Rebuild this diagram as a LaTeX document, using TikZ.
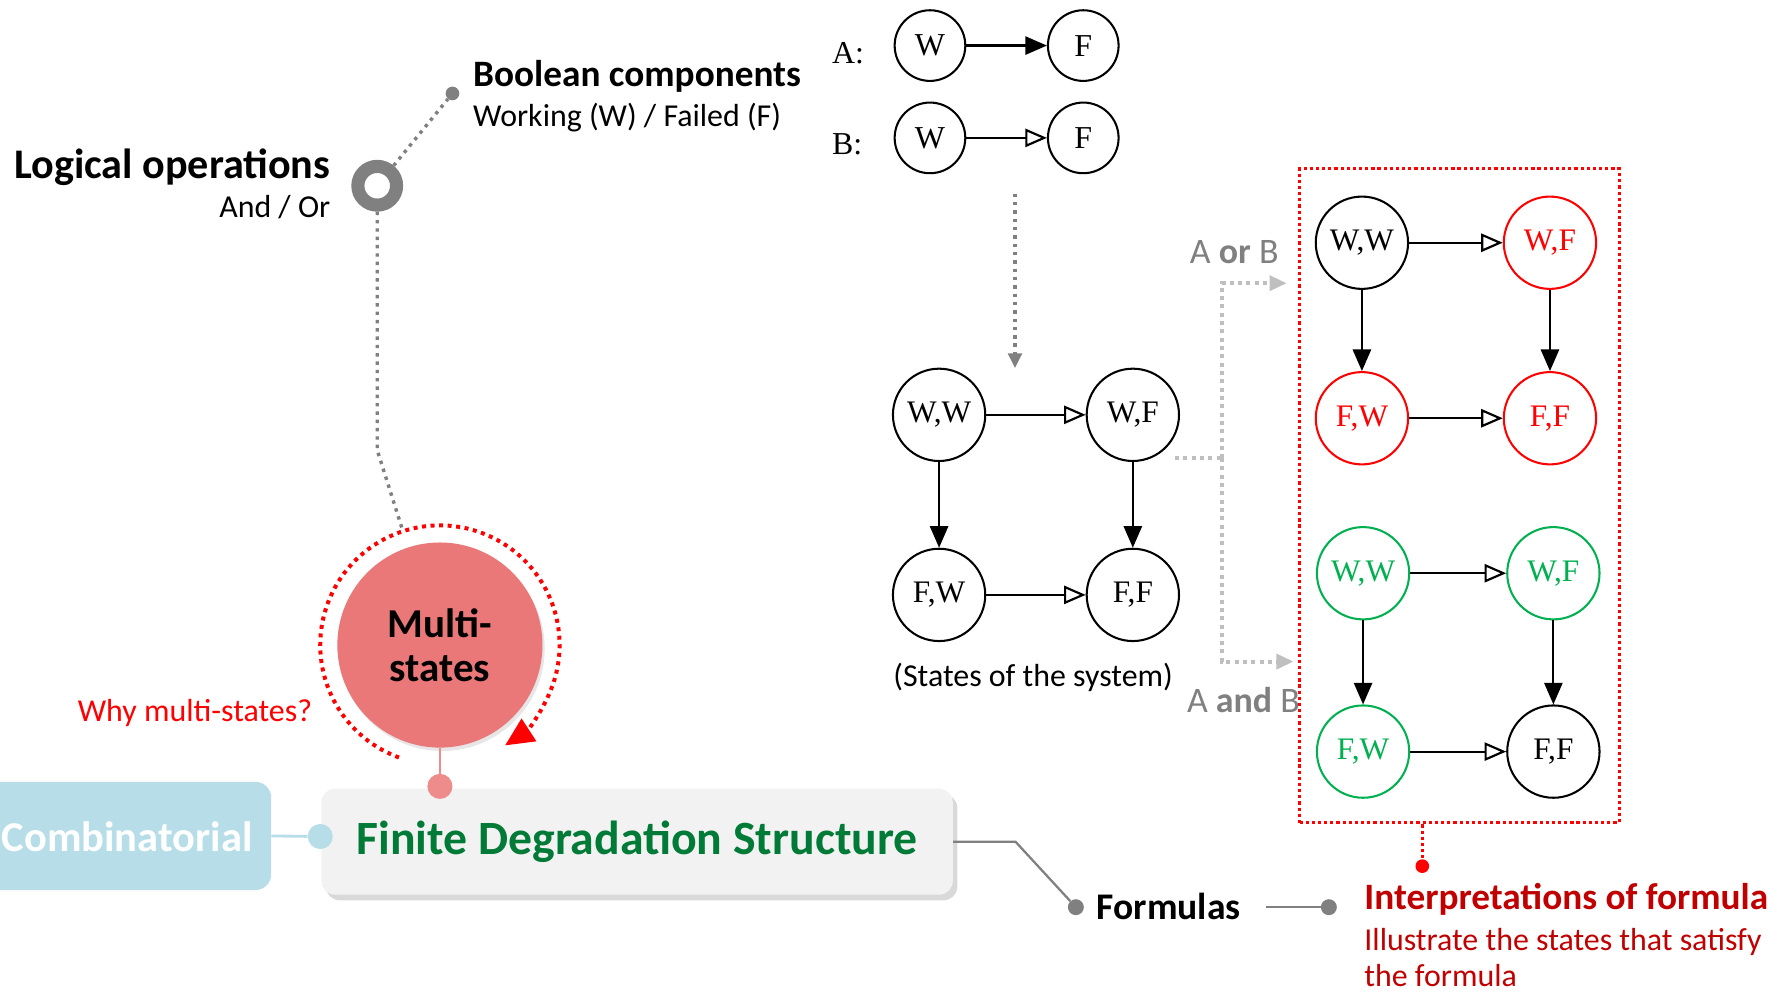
\documentclass[tikz,border=0pt]{standalone}
\usepackage{fontspec}
\setmainfont{Liberation Serif}
\newfontfamily\carl{Carlito}
\usetikzlibrary{arrows.meta,shadows,calc}

\definecolor{midgray}{RGB}{128,128,128}
\definecolor{paledots}{RGB}{191,191,191}
\definecolor{pinkfill}{RGB}{234,120,120}
\definecolor{pinkdot}{RGB}{238,140,140}
\definecolor{bluebox}{RGB}{183,222,232}
\definecolor{boxgray}{RGB}{242,242,242}
\definecolor{fdsgreen}{RGB}{0,122,55}
\definecolor{stgreen}{RGB}{0,176,80}
\definecolor{darkred}{RGB}{192,0,0}
\definecolor{pured}{RGB}{255,0,0}

\newcommand\fsz[2]{\fontsize{#1}{#2}\selectfont}

\begin{document}
\begin{tikzpicture}[x=1pt,y=1pt,
  st/.style={circle,draw,line width=1.8pt,minimum size=81pt,inner sep=0pt,font=\fsz{27.5}{30}},
  stA/.style={st,minimum size=62pt,font=\fsz{28}{30}},
  redst/.style={st,draw=pured,text=pured},
  greenst/.style={st,draw=stgreen,text=stgreen},
  edge/.style={line width=1.9pt},
  farr/.style={edge,-{Triangle[length=19pt,width=16pt]}},
  oarr/.style={edge,-{Triangle[open,length=19pt,width=16pt]}},
  graydots/.style={draw=midgray,line width=3pt,dash pattern=on 3pt off 4.3pt},
  paledash/.style={draw=paledots,line width=3.5pt,dash pattern=on 3.5pt off 3.8pt},
  reddots/.style={draw=pured,line width=3.5pt,dash pattern=on 3.5pt off 4pt},
  framedots/.style={draw=pured,line width=2.8pt,dash pattern=on 2.8pt off 2.6pt},
  blob/.style={circle,inner sep=0pt,minimum size=#1},
  lbl/.style={inner sep=0pt,font=\carl\fsz{28}{33}},
  head/.style={inner sep=0pt,font=\carl\bfseries\fsz{32.7}{38}},
]
\useasboundingbox (0,0) rectangle (1568,870);

% ---------- logical operations and Boolean components ----------
\node[head,font=\carl\bfseries\fsz{37}{42},anchor=base east] (logic) at (290,713) {Logical operations};
\node[lbl,anchor=base east] (andor) at (290,679) {And / Or};
\node[circle,draw=midgray,line width=11.5pt,minimum size=34pt,inner sep=0pt] (ring) at (331,707) {};
\node[blob=12pt,fill=midgray] (bdot) at (397,788) {};
\node[head,anchor=base west] (bool) at (415,794) {Boolean components};
\node[lbl,anchor=base west] (work) at (415,759) {Working (W) / Failed (F)};
\draw[graydots] (ring) -- (bdot);

% ---------- multi-states ----------
\node[circle,fill=pinkfill,minimum size=180pt,inner sep=0pt,align=center,
      font=\carl\bfseries\fsz{36}{39},
      drop shadow={shadow xshift=2pt,shadow yshift=-3pt,opacity=0.2}] (ms) at (386,304) {Multi-\\states};
\coordinate (bend) at (331,475);
\coordinate (mstop) at ($(ms.center)+(108:105)$);
\draw[graydots] (ring.south) -- (bend) -- (mstop);
\draw[reddots,-{Triangle[length=25pt,width=23pt]}] ($(ms.center)+(250:105)$)
  arc[start angle=250,end angle=-57,radius=105];
\node[lbl,text=pured,anchor=base east] (why) at (274,237) {Why multi-states?};

% ---------- main boxes ----------
\node[rounded corners=14pt,fill=bluebox,minimum width=268pt,minimum height=95pt] (comb) at (104,136.5) {};
\node[inner sep=0pt,text=white,font=\carl\bfseries\fsz{37.3}{42}] (combtxt) at (111.5,136) {Combinatorial};
\node[rounded corners=12pt,fill=boxgray,minimum width=554pt,minimum height=93pt,
      drop shadow={shadow xshift=4pt,shadow yshift=-5pt,opacity=0.3},
      font=\carl\bfseries\fsz{41.9}{46},text=fdsgreen] (fds) at (559,131.5) {Finite Degradation Structure};
\node[blob=22pt,fill=bluebox] (cdot) at (281,136) {};
\draw[bluebox,line width=2.5pt] (comb.east) -- (cdot);
\node[blob=22pt,fill=pinkdot] (pdot) at (386,180) {};
\draw[pinkdot,line width=2pt] (ms) -- (pdot);

% ---------- formulas and interpretations ----------
\coordinate (fk) at (891,131.5);
\node[blob=14pt,fill=midgray] (fdot) at (944,74) {};
\draw[midgray,line width=2pt] (fds.east) -- (fk) -- (fdot);
\node[head,font=\carl\bfseries\fsz{33}{38},anchor=base west] (form) at (962,63) {Formulas};
\coordinate (ls) at (1111,74);
\node[blob=14pt,fill=midgray] (idot) at (1166,74) {};
\draw[midgray,line width=2pt] (ls) -- (idot);
\node[head,text=darkred,anchor=base west] (interp) at (1197,72) {Interpretations of formula};
\node[lbl,text=darkred,anchor=base west] (ill1) at (1197,36) {Illustrate the states that satisfy};
\node[lbl,text=darkred,anchor=base west] (ill2) at (1197,4) {the formula};

% ---------- components A and B ----------
\node[inner sep=0pt,font=\fsz{28}{32},anchor=base west] (labA) at (730,814) {A:};
\node[inner sep=0pt,font=\fsz{28}{32},anchor=base west] (labB) at (730,734) {B:};
\node[stA] (aw) at (816,830) {W};
\node[stA] (af) at (950.5,830) {F};
\node[stA] (bw) at (816,749) {W};
\node[stA] (bf) at (950.5,749) {F};
\draw[farr] (aw) -- (af);
\draw[oarr] (bw) -- (bf);
\coordinate (gtop) at (890.6,700);
\coordinate (gbot) at (890.6,547);
\draw[graydots,-{Triangle[length=13pt,width=12pt]}] (gtop) -- (gbot);

% ---------- states of the system ----------
\node[st] (ww) at (824,506) {W,W};
\node[st] (wf) at (994,506) {W,F};
\node[st] (fw) at (824,348) {F,W};
\node[st] (ff) at (994,348) {F,F};
\draw[oarr] (ww) -- (wf);
\draw[farr] (ww) -- (fw);
\draw[farr] (wf) -- (ff);
\draw[oarr] (fw) -- (ff);
\node[lbl] (cap) at (906.5,276) {(States of the system)};

% ---------- or / and branches ----------
\coordinate (ls0) at (1031,468);
\coordinate (lj) at (1072,468);
\coordinate (lor) at (1129,621.5);
\coordinate (land) at (1135,289.5);
\draw[paledash] (ls0) -- (lj);
\draw[paledash,-{Triangle[length=15pt,width=13pt]}] (lj) |- (lor);
\draw[paledash,-{Triangle[length=15pt,width=13pt]}] (lj) |- (land);
\node[inner sep=0pt,text=midgray,font=\carl\fsz{31.5}{34}] (aorb) at (1083,649) {A \textbf{or} B};
\node[inner sep=0pt,text=midgray,font=\carl\fsz{31.5}{34}] (aandb) at (1091,256) {A \textbf{and} B};

% ---------- satisfying states ----------
\node[framedots,minimum width=280.5pt,minimum height=574pt,inner sep=0pt] (frame) at (1280.5,435) {};
\node[blob=12pt,fill=pured] (fdot2) at (1248,110) {};
\draw[framedots] (fdot2 |- frame.south) -- (fdot2);

\node[st] (rww) at (1195,657) {W,W};
\node[redst] (rwf) at (1360,657) {W,F};
\node[redst] (rfw) at (1195,503) {F,W};
\node[redst] (rff) at (1360,503) {F,F};
\draw[oarr] (rww) -- (rwf);
\draw[farr] (rww) -- (rfw);
\draw[farr] (rwf) -- (rff);
\draw[oarr] (rfw) -- (rff);

\node[greenst] (gww) at (1196,367) {W,W};
\node[greenst] (gwf) at (1363,367) {W,F};
\node[greenst] (gfw) at (1196,210.5) {F,W};
\node[st] (gff) at (1363,210.5) {F,F};
\draw[oarr] (gww) -- (gwf);
\draw[farr] (gww) -- (gfw);
\draw[farr] (gwf) -- (gff);
\draw[oarr] (gfw) -- (gff);
\end{tikzpicture}
\end{document}
